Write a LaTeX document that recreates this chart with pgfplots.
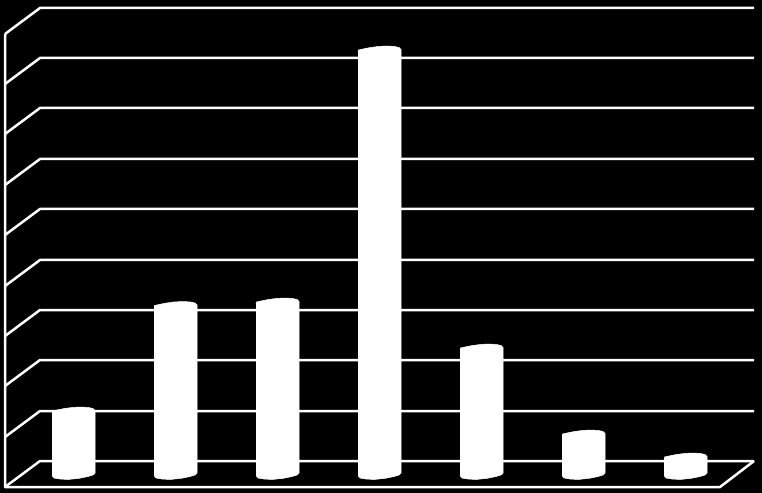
\documentclass[border=0pt]{standalone}
\usepackage{pgfplots}
\pgfplotsset{compat=1.18}
\begin{document}
\begin{tikzpicture}
\begin{axis}[
    x=1bp, y=1bp,
    xmin=0, xmax=762,
    ymin=0, ymax=493,
    y dir=reverse,
    axis line style={draw=none},
    tick style={draw=none},
    xtick=\empty, ytick=\empty,
    axis background/.style={fill=black},
    grid line/.style={white, line width=2.5bp, line join=round, forget plot},
    cyl/.style={fill=white, draw=white, line width=0.5bp, line join=round, forget plot},
    ]
    % back wall lines with their slant down the side wall
    \addplot [grid line] coordinates {(5,34) (40,8) (754,8)};
    \addplot [grid line] coordinates {(5,84) (40,58) (754,58)};
    \addplot [grid line] coordinates {(5,134) (40,108) (754,108)};
    \addplot [grid line] coordinates {(5,185) (40,159) (754,159)};
    \addplot [grid line] coordinates {(5,235) (40,209) (754,209)};
    \addplot [grid line] coordinates {(5,286) (40,260) (754,260)};
    \addplot [grid line] coordinates {(5,336) (40,310) (754,310)};
    \addplot [grid line] coordinates {(5,386) (40,360) (754,360)};
    \addplot [grid line] coordinates {(5,437) (40,411) (754,411)};
    \addplot [grid line] coordinates {(5,487) (40,461) (754,461)};
    % front of floor and left edge
    \addplot [grid line] coordinates {(5,34) (5,487) (720,487) (754,461)};
    % cylinders
    \addplot [cyl] coordinates {(52,413) (52.5,411) (57,410) (64,408.6) (72,407.5) (80,407) (88,407.4) (93,408.5) (95,410.5) (95,473) (93,475) (88,476.5) (80,478.2) (68,479.5) (60,479) (54,478) (52,475.5)};
    \addplot [cyl] coordinates {(154,307.5) (154.5,305.5) (159,304.5) (166,303.1) (174,302) (182,301.5) (190,301.9) (195,303) (197,305) (197,473) (195,475) (190,476.5) (182,478.2) (170,479.5) (162,479) (156,478) (154,475.5)};
    \addplot [cyl] coordinates {(256,304) (256.5,302) (261,301) (268,299.6) (276,298.5) (284,298) (292,298.4) (297,299.5) (299,301.5) (299,473) (297,475) (292,476.5) (284,478.2) (272,479.5) (264,479) (258,478) (256,475.5)};
    \addplot [cyl] coordinates {(358,52) (358.5,50) (363,49) (370,47.6) (378,46.5) (386,46) (394,46.4) (399,47.5) (401,49.5) (401,473) (399,475) (394,476.5) (386,478.2) (374,479.5) (366,479) (360,478) (358,475.5)};
    \addplot [cyl] coordinates {(460,350) (460.5,348) (465,347) (472,345.6) (480,344.5) (488,344) (496,344.4) (501,345.5) (503,347.5) (503,473) (501,475) (496,476.5) (488,478.2) (476,479.5) (468,479) (462,478) (460,475.5)};
    \addplot [cyl] coordinates {(562,436) (562.5,434) (567,433) (574,431.6) (582,430.5) (590,430) (598,430.4) (603,431.5) (605,433.5) (605,473) (603,475) (598,476.5) (590,478.2) (578,479.5) (570,479) (564,478) (562,475.5)};
    \addplot [cyl] coordinates {(664,459) (664.5,457) (669,456) (676,454.6) (684,453.5) (692,453) (700,453.4) (705,454.5) (707,456.5) (707,473) (705,475) (700,476.5) (692,478.2) (680,479.5) (672,479) (666,478) (664,475.5)};
\end{axis}
\end{tikzpicture}
\end{document}
